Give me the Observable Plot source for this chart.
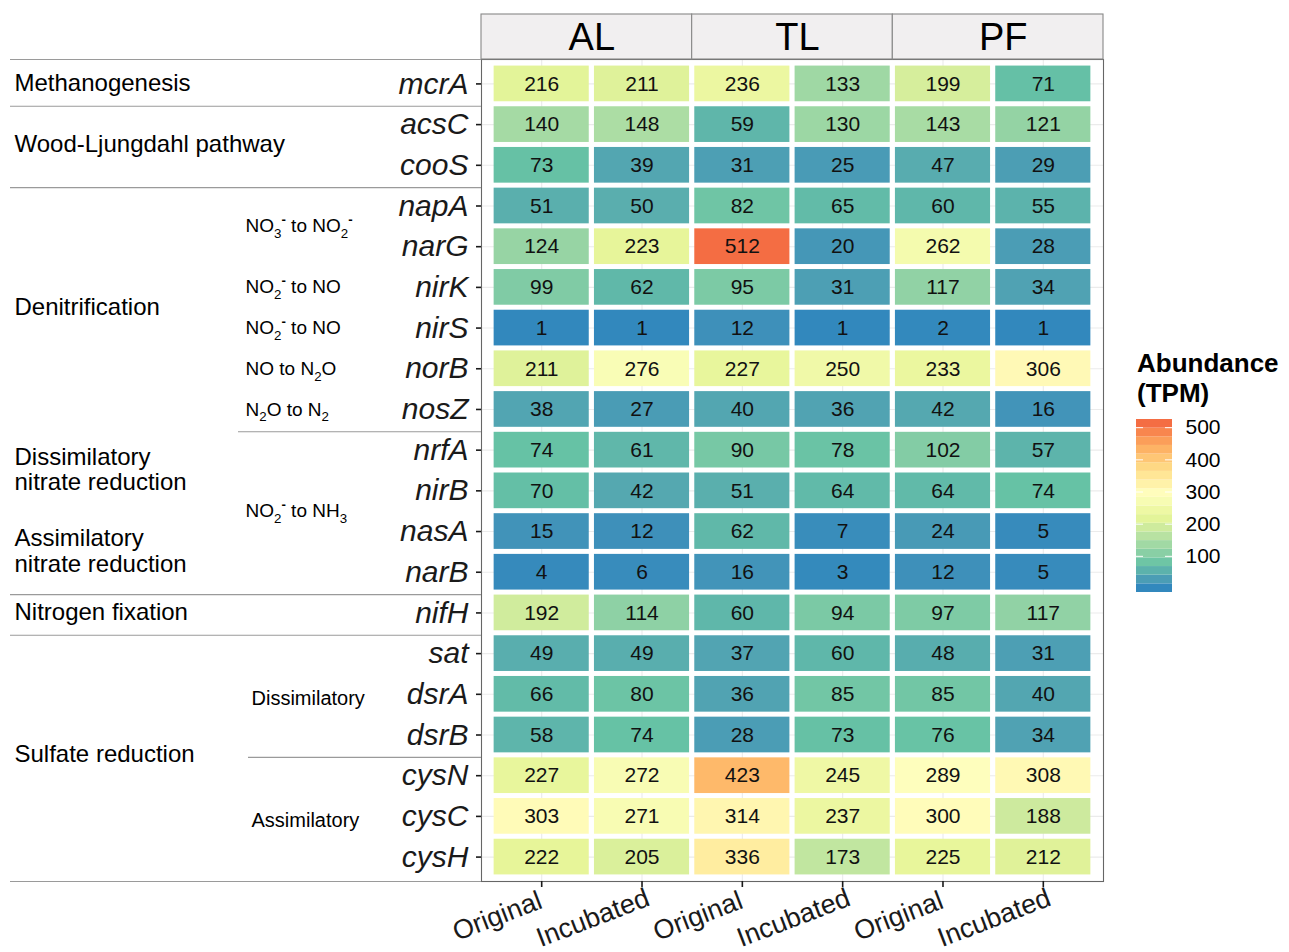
<!DOCTYPE html>
<html><head><meta charset="utf-8">
<script src="https://cdn.jsdelivr.net/npm/d3@7"></script>
<script src="https://cdn.jsdelivr.net/npm/@observablehq/plot@0.6"></script>
<style>
body{margin:0;background:#fff;font-family:"Liberation Sans",Arial,Helvetica,sans-serif;}
#wrap{position:relative;width:1289px;height:952px;overflow:hidden;background:#fff;}
#main{position:absolute;left:0;top:0;}
#legtitle{position:absolute;left:1137px;top:348px;font-weight:bold;font-size:26px;line-height:30px;color:#000;}
#legend{position:absolute;left:1120px;top:410px;}
</style></head><body>
<div id="wrap"><div id="main"></div><div id="legtitle">Abundance<br>(TPM)</div><div id="legend"></div></div>
<script>
// ---------------- data ----------------
const genes = ["mcrA","acsC","cooS","napA","narG","nirK","nirS","norB","nosZ","nrfA","nirB","nasA","narB","nifH","sat","dsrA","dsrB","cysN","cysC","cysH"];
const sites = ["AL","TL","PF"];
const treatments = ["Original","Incubated"];
const AL_Original  = [216,140,73,51,124,99,1,211,38,74,70,15,4,192,49,66,58,227,303,222];
const AL_Incubated = [211,148,39,50,223,62,1,276,27,61,42,12,6,114,49,80,74,272,271,205];
const TL_Original  = [236,59,31,82,512,95,12,227,40,90,51,62,16,60,37,36,28,423,314,336];
const TL_Incubated = [133,130,25,65,20,31,1,250,36,78,64,7,3,94,60,85,73,245,237,173];
const PF_Original  = [199,143,47,60,262,117,2,233,42,102,64,24,12,97,48,85,76,289,300,225];
const PF_Incubated = [71,121,29,55,28,34,1,306,16,57,74,5,5,117,31,40,34,308,188,212];

const pathways = ["Methanogenesis","Wood-Ljungdahl pathway","Denitrification","Dissimilatory\nnitrate reduction","Assimilatory\nnitrate reduction","Nitrogen fixation","Sulfate reduction"];
const pathwayGenes = [["mcrA"],["acsC","cooS"],["napA","narG","nirK","nirS","norB","nosZ"],["nrfA","nirB"],["nasA","narB"],["nifH"],["sat","dsrA","dsrB","cysN","cysC","cysH"]];
const steps = ["NO_{3}^{-} to NO_{2}^{-}","NO_{2}^{-} to NO","NO_{2}^{-} to NO","NO to N_{2}O","N_{2}O to N_{2}","NO_{2}^{-} to NH_{3}"];
const stepGenes = [["napA","narG"],["nirK"],["nirS"],["norB"],["nosZ"],["nrfA","nirB","nasA","narB"]];
const sulfateTypes = ["Dissimilatory","Assimilatory"];
const sulfateGenes = [["sat","dsrA","dsrB"],["cysN","cysC","cysH"]];
const majorBreaks = ["mcrA","cooS","narB","nifH"];
const stepBreaks = ["nosZ"];
const sulfateBreaks = ["dsrB"];
const legendTicks = [100,200,300,400,500];
const palette = ["#3288BD","#66C2A5","#ABDDA4","#E6F598","#FFFFBF","#FEE08B","#FDAE61","#F46D43"];

// ---------------- build ----------------
const series = {AL_Original, AL_Incubated, TL_Original, TL_Incubated, PF_Original, PF_Incubated};
const cells = [];
sites.forEach((s, si) => treatments.forEach((t, ti) => {
  series[`${s}_${t}`].forEach((v, gi) => cells.push({site: s, treat: t, col: si * 2 + ti, gene: genes[gi], row: gi, value: v}));
}));
const allVals = cells.map(d => d.value);
const vmin = d3.min(allVals), vmax = d3.max(allVals);
const nCol = sites.length * treatments.length;
const xDomain = [-0.6, nCol - 0.4];
const yDomain = [-0.6, genes.length - 0.4];
const colorOpts = {type: "linear", domain: palette.map((_, i) => vmin + i * (vmax - vmin) / (palette.length - 1)), range: palette, interpolate: "lab"};
const gi = g => genes.indexOf(g);
const center = arr => d3.mean(arr, g => gi(g));
const strips = sites.map((s, si) => {
  const x1 = si === 0 ? xDomain[0] : si * 2 - 0.5;
  const x2 = si === sites.length - 1 ? xDomain[1] : si * 2 + 1.5;
  return {site: s, x1, x2, mid: (x1 + x2) / 2};
});
const pathwayLabels = pathways.map((p, i) => ({label: p, y: center(pathwayGenes[i])}));
const stepLabels = steps.map((p, i) => ({label: p, y: center(stepGenes[i])}));
const sulfLabels = sulfateTypes.map((p, i) => ({label: p, y: center(sulfateGenes[i])}));
const fontFamily = "'Liberation Sans', Arial, Helvetica, sans-serif";
const lineCol = "#9a9a9a";

const main = Plot.plot({
  width: 1289, height: 952,
  marginLeft: 481, marginRight: 186, marginTop: 59, marginBottom: 71,
  style: {fontFamily, fontSize: "12px", background: "white", color: "black", overflow: "visible"},
  x: {domain: xDomain},
  y: {domain: yDomain, reverse: true},
  color: colorOpts,
  marks: [
    Plot.ruleX(d3.range(nCol), {stroke: "#ebebeb", strokeWidth: 1.1}),
    Plot.ruleY(d3.range(genes.length), {stroke: "#ebebeb", strokeWidth: 1.1}),
    Plot.rect(cells, {x1: d => d.col - 0.5, x2: d => d.col + 0.5, y1: d => d.row - 0.5, y2: d => d.row + 0.5,
      fill: "value", insetLeft: 2.6, insetRight: 2.6, insetTop: 2.5, insetBottom: 2.5}),
    Plot.text(cells, {x: "col", y: "row", text: d => String(d.value), fontSize: 21, fill: "#111"}),
    Plot.frame({stroke: "#666", strokeWidth: 1.1}),
    Plot.rect(strips, {x1: "x1", x2: "x2", y1: yDomain[0], y2: yDomain[0], insetTop: -45, fill: "#f1eff0", stroke: "#888", strokeWidth: 1.1}),
    Plot.text(strips, {x: "mid", y: yDomain[0], dy: -22, dx: 5, text: "site", fontSize: 38, fill: "#000"}),
    Plot.axisY(d3.range(genes.length), {tickFormat: i => genes[i], fontSize: 30, fontStyle: "italic", tickSize: 5, tickPadding: 8, strokeWidth: 1.6, color: "#1a1a1a", label: null}),
    Plot.axisX(d3.range(nCol), {tickFormat: i => treatments[i % 2], fontSize: 27, tickRotate: -21, textAnchor: "end", tickSize: 6, tickPadding: 22, strokeWidth: 1.6, color: "#1a1a1a", label: null}),
    // left annotation
    Plot.ruleY(yDomain, {insetLeft: -471, insetRight: 622, stroke: lineCol, strokeWidth: 1.1}),
    Plot.ruleY(majorBreaks.map(g => gi(g) + 0.5), {dy: 2, insetLeft: -471, insetRight: 622, stroke: lineCol, strokeWidth: 1.1}),
    Plot.ruleY(stepBreaks.map(g => gi(g) + 0.5), {dy: 2, insetLeft: -243, insetRight: 622, stroke: lineCol, strokeWidth: 1.1}),
    Plot.ruleY(sulfateBreaks.map(g => gi(g) + 0.5), {dy: 2, insetLeft: -233, insetRight: 622, stroke: lineCol, strokeWidth: 1.1}),
    Plot.text(pathwayLabels, {y: "y", text: "label", frameAnchor: "left", dx: -467, dy: -1, textAnchor: "start", fontSize: 24, lineHeight: 1.05, fill: "#000"}),
    Plot.text(stepLabels, {y: "y", text: "label", frameAnchor: "left", dx: -236, textAnchor: "start", fontSize: 19, fill: "#000"}),
    Plot.text(sulfLabels, {y: "y", text: "label", frameAnchor: "left", dx: -230, dy: 4, textAnchor: "start", fontSize: 20, fill: "#000"})
  ]
});
document.getElementById("main").appendChild(main);

// rich text: _{sub} and ^{sup}
main.querySelectorAll("text").forEach(t => {
  if (t.querySelector("tspan")) return;
  const s = t.textContent;
  if (!/[_^]\{/.test(s)) return;
  const fs = parseFloat(getComputedStyle(t).fontSize) || 19;
  t.textContent = "";
  let cur = 0;
  s.split(/([_^]\{[^}]*\})/).filter(p => p).forEach(p => {
    let txt = p, off = 0, small = false;
    if (p.startsWith("_{")) { txt = p.slice(2, -1); off = fs * 0.3; small = true; }
    else if (p.startsWith("^{")) { txt = p.slice(2, -1); off = -fs * 0.42; small = true; }
    const ts = document.createElementNS("http://www.w3.org/2000/svg", "tspan");
    ts.textContent = txt;
    if (off - cur) ts.setAttribute("dy", off - cur);
    if (small) { ts.setAttribute("font-size", fs * 0.7); if (p.startsWith("^")) ts.setAttribute("font-weight", "bold"); }
    t.appendChild(ts);
    cur = off;
  });
});

// x tick labels: shift left of the tick and justify at 70% of the label length (like hjust = 0.7)
main.querySelectorAll('g[aria-label="x-axis tick label"] text').forEach(t => {
  const L = t.getComputedTextLength();
  t.setAttribute("dx", (0.3 * L).toFixed(1));
  t.setAttribute("transform", "translate(-27,0) " + (t.getAttribute("transform") || ""));
});

// legend
const nb = 20, h = (vmax - vmin) / (nb - 1);
const bins = d3.range(nb).map(i => vmin + i * h);
const legend = Plot.plot({
  width: 169, height: 192, marginLeft: 16, marginRight: 117, marginTop: 9, marginBottom: 10,
  style: {fontFamily, background: "transparent", overflow: "visible"},
  y: {domain: [vmin - h / 2, vmax + h / 2], axis: null},
  color: colorOpts,
  marks: [
    Plot.rect(bins, {y1: d => d - h / 2, y2: d => d + h / 2, fill: d => d}),
    Plot.ruleY(legendTicks, {stroke: "white", insetRight: 29, strokeWidth: 1}),
    Plot.ruleY(legendTicks, {stroke: "white", insetLeft: 29, strokeWidth: 1}),
    Plot.text(legendTicks, {y: d => d, frameAnchor: "right", dx: 13, textAnchor: "start", fontSize: 21, fill: "#000"})
  ]
});
document.getElementById("legend").appendChild(legend);
</script>
</body></html>
